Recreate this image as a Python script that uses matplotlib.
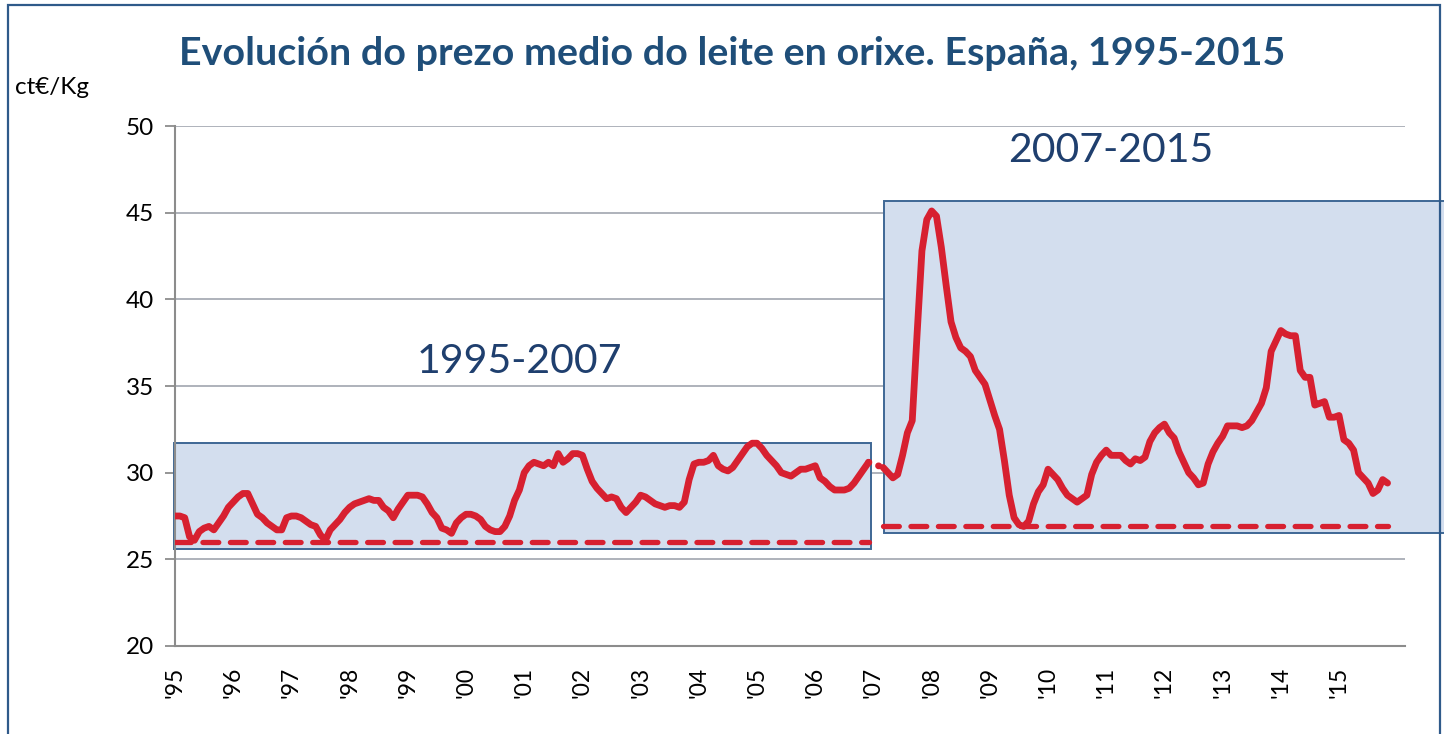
#!/usr/bin/env python3
"""Evolución do prezo medio do leite en orixe. España, 1995-2015."""

import matplotlib
matplotlib.use("Agg")
import matplotlib.pyplot as plt
from matplotlib.patches import Rectangle
import numpy as np

# monthly milk price (ct€/Kg), Jan 1995 .. Nov 2015
price_1995_2006 = [
    27.5, 27.5, 27.4, 26.3, 26.1, 26.6, 26.8, 26.9, 26.7, 27.1, 27.5, 28.0,
    28.3, 28.6, 28.8, 28.8, 28.2, 27.6, 27.4, 27.1, 26.9, 26.7, 26.7, 27.4,
    27.5, 27.5, 27.4, 27.2, 27.0, 26.9, 26.4, 26.1, 26.7, 27.0, 27.3, 27.7,
    28.0, 28.2, 28.3, 28.4, 28.5, 28.4, 28.4, 28.0, 27.8, 27.4, 27.9, 28.3,
    28.7, 28.7, 28.7, 28.6, 28.2, 27.7, 27.4, 26.8, 26.7, 26.5, 27.1, 27.4,
    27.6, 27.6, 27.5, 27.3, 26.9, 26.7, 26.6, 26.6, 26.9, 27.5, 28.4, 29.0,
    30.0, 30.4, 30.6, 30.5, 30.4, 30.6, 30.4, 31.1, 30.6, 30.8, 31.1, 31.1,
    31.0, 30.2, 29.5, 29.1, 28.8, 28.5, 28.6, 28.5, 28.0, 27.7, 28.0, 28.3,
    28.7, 28.6, 28.4, 28.2, 28.1, 28.0, 28.1, 28.1, 28.0, 28.3, 29.6, 30.5,
    30.6, 30.6, 30.7, 31.0, 30.4, 30.2, 30.1, 30.3, 30.7, 31.1, 31.5, 31.7,
    31.7, 31.4, 31.0, 30.7, 30.4, 30.0, 29.9, 29.8, 30.0, 30.2, 30.2, 30.3,
    30.4, 29.7, 29.5, 29.2, 29.0, 29.0, 29.0, 29.1, 29.4, 29.8, 30.2, 30.6,
]
price_2007_2015 = [
    30.5, 30.4, 30.3, 30.0, 29.7, 29.9, 31.0, 32.3, 33.0, 38.0, 42.8, 44.6,
    45.1, 44.8, 43.0, 40.8, 38.7, 37.8, 37.2, 37.0, 36.7, 35.9, 35.5, 35.1,
    34.2, 33.3, 32.5, 30.7, 28.7, 27.4, 27.0, 26.9, 27.2, 28.2, 28.9, 29.3,
    30.2, 29.9, 29.6, 29.1, 28.7, 28.5, 28.3, 28.5, 28.7, 29.9, 30.6, 31.0,
    31.3, 31.0, 31.0, 31.0, 30.7, 30.5, 30.8, 30.7, 30.9, 31.8, 32.3, 32.6,
    32.8, 32.3, 32.0, 31.2, 30.6, 30.0, 29.7, 29.3, 29.4, 30.5, 31.2, 31.7,
    32.1, 32.7, 32.7, 32.7, 32.6, 32.7, 33.0, 33.5, 34.0, 34.9, 37.0, 37.6,
    38.2, 38.0, 37.9, 37.9, 35.9, 35.5, 35.5, 33.9, 34.0, 34.1, 33.2, 33.2,
    33.3, 31.9, 31.7, 31.3, 30.0, 29.7, 29.4, 28.8, 29.0, 29.6, 29.4,
]
year_labels = ["'95", "'96", "'97", "'98", "'99", "'00", "'01", "'02", "'03",
               "'04", "'05", "'06", "'07", "'08", "'09", "'10", "'11", "'12",
               "'13", "'14", "'15"]
period_labels = ["1995-2007", "2007-2015"]
period_min = [26.0, 26.9]

RED = "#D72030"
NAVY = "#1F4E79"
BOX_FILL = "#D3DEEE"
BOX_EDGE = "#3E6795"
GRID = "#A8ADB5"


def main() -> None:
    plt.rcParams["font.family"] = ["Lato", "DejaVu Sans"]

    price = np.array(price_1995_2006 + price_2007_2015)
    x = np.arange(len(price))
    n1 = len(price_1995_2006)

    fig = plt.figure(figsize=(14.44, 7.34), dpi=100)
    ax = fig.add_axes([0.1212, 0.1199, 0.8518, 0.7084])

    # outer frame of the figure
    fig.patches.append(Rectangle((0.0055, -0.05), 0.992, 1.043, transform=fig.transFigure,
                                 fill=False, edgecolor="#2F5A8A", linewidth=1.6))

    # shaded period boxes
    ax.add_patch(Rectangle((-0.2, 25.6), n1 - 0.5 + 0.2 + 0.1, 31.7 - 25.6,
                           facecolor=BOX_FILL, edgecolor=BOX_EDGE, linewidth=1.4,
                           zorder=1, clip_on=False))
    ax.add_patch(Rectangle((n1 + 2.2, 26.5), 120, 45.7 - 26.5,
                           facecolor=BOX_FILL, edgecolor=BOX_EDGE, linewidth=1.4,
                           zorder=1, clip_on=False))

    # minimum reference lines
    ax.plot([0, n1 - 1], [period_min[0]] * 2, color=RED, lw=3.8,
            linestyle=(0, (3.0, 2.2)), dash_capstyle="round", zorder=3)
    ax.plot([n1 + 2, len(price) - 1], [period_min[1]] * 2, color=RED, lw=3.8,
            linestyle=(0, (3.0, 2.2)), dash_capstyle="round", zorder=3, clip_on=False)

    # price line
    ax.plot(x[:n1], price[:n1], color=RED, lw=4.9, solid_joinstyle="round",
            solid_capstyle="round", zorder=4)
    ax.plot(x[n1 - 1:n1 + 3], price[n1 - 1:n1 + 3], color=RED, lw=4.9,
            linestyle=(0, (0.05, 1.5)), dash_capstyle="round", zorder=4, clip_on=False)
    ax.plot(x[n1 + 2:], price[n1 + 2:], color=RED, lw=4.9, solid_joinstyle="round",
            solid_capstyle="round", zorder=4)

    ax.text(71, 36.4, period_labels[0], fontsize=29.5, color="#1F3F6E",
            ha="center", va="center", zorder=5)
    ax.text(193, 48.6, period_labels[1], fontsize=29.5, color="#1F3F6E",
            ha="center", va="center", zorder=5)

    ax.set_xlim(0, 253.6)
    ax.set_ylim(20, 50)
    ax.set_yticks(range(20, 51, 5))
    ax.yaxis.grid(True, color=GRID, linewidth=1.3, zorder=0)
    ax.set_axisbelow(True)

    ax.set_xticks(np.arange(0, 241, 12))
    ax.set_xticklabels(year_labels, rotation=90, fontsize=16.5)
    ax.set_xticks(np.arange(0, 241, 24), minor=True)
    ax.tick_params(axis="x", which="major", length=0, pad=15)
    ax.tick_params(axis="x", which="minor", length=8, color="#8C8C8C", width=1.3)
    ax.tick_params(axis="y", length=7, color="#8C8C8C", width=1.3, labelsize=17.5, pad=8)

    for side in ("top", "right"):
        ax.spines[side].set_visible(False)
    for side in ("left", "bottom"):
        ax.spines[side].set_color("#8C8C8C")
        ax.spines[side].set_linewidth(1.5)

    fig.text(0.507, 0.927, "Evolución do prezo medio do leite en orixe. España, 1995-2015",
             ha="center", va="center", fontsize=28.4, fontweight="bold", color=NAVY)
    fig.text(0.0105, 1 - 88 / 734, "ct€/Kg", ha="left", va="center", fontsize=17.5)

    fig.savefig("out.png", dpi=100)


if __name__ == "__main__":
    main()
